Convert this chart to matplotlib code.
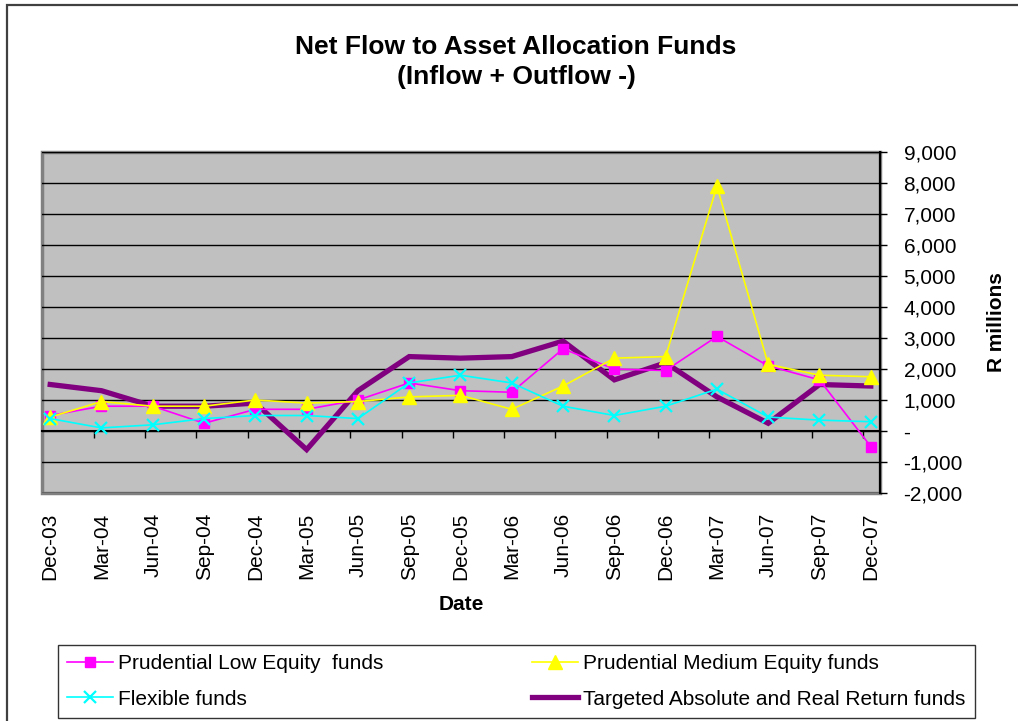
import numpy as np
import matplotlib
matplotlib.use("Agg")
import matplotlib.pyplot as plt
from matplotlib.patches import Rectangle
from matplotlib.ticker import FuncFormatter

plt.rcParams['font.family'] = ['Liberation Sans', 'DejaVu Sans']

# quarters on the category axis
quarters = ['Dec-03', 'Mar-04', 'Jun-04', 'Sep-04', 'Dec-04', 'Mar-05', 'Jun-05',
            'Sep-05', 'Dec-05', 'Mar-06', 'Jun-06', 'Sep-06', 'Dec-06', 'Mar-07',
            'Jun-07', 'Sep-07', 'Dec-07']

# net flows, R millions
low_equity = [500, 800, 800, 250, 700, 700, 1000,
              1550, 1300, 1250, 2650, 2000, 1950, 3050, 2100, 1650, -500]
medium_equity = [450, 950, 800, 800, 1000, 900, 950,
                 1100, 1150, 700, 1450, 2350, 2400, 7900, 2150, 1800, 1750]
flexible = [400, 100, 200, 400, 500, 500, 400,
            1550, 1800, 1550, 800, 500, 800, 1350, 450, 350, 300]
targeted = [1500, 1300, 800, 800, 900, -600, 1300,
            2400, 2350, 2400, 2900, 1650, 2200, 1100, 250, 1500, 1450]

x = np.arange(len(quarters))

fig = plt.figure(figsize=(10.18, 7.21), dpi=100)
ax = fig.add_axes([42/1018, 1-493/721, 838/1018, 341/721])

# outer chart frame
fig.patches.append(Rectangle((7/1018, -0.05), 1.2, 1-5/721+0.05, transform=fig.transFigure,
                             fill=False, edgecolor='#404040', lw=1.6))

ax.set_facecolor('#C0C0C0')
ax.patch.set_edgecolor('#808080')
ax.patch.set_linewidth(2.5)

ax.plot(x, targeted, color='#800080', lw=3.8, zorder=3,
        label='Targeted Absolute and Real Return funds', solid_joinstyle='miter')
ax.plot(x, low_equity, color='#FF00FF', lw=1.2, marker='s', ms=7, zorder=4,
        label='Prudential Low Equity  funds')
ax.plot(x, medium_equity, color='#FFFF00', lw=1.2, marker='^', ms=9.5, zorder=5,
        label='Prudential Medium Equity funds')
ax.plot(x, flexible, color='#00FFFF', lw=1.2, marker='x', ms=9, mew=1.6, zorder=6,
        label='Flexible funds')

ax.set_xlim(-0.16, 16.18)
ax.set_ylim(-2000, 9000)

# value axis on the right
ax.yaxis.tick_right()
ax.set_yticks(np.arange(-2000, 9001, 1000))
ax.yaxis.set_major_formatter(FuncFormatter(lambda v, p: '-' if v == 0 else f'{v:,.0f}'))
ax.tick_params(axis='y', direction='out', length=5, width=1, pad=12, labelsize=15, color='black')
ax.grid(axis='y', color='black', lw=1.0, zorder=1)
ax.set_axisbelow(True)

for s in ['top', 'left']:
    ax.spines[s].set_visible(False)
ax.spines['right'].set_color('black')
ax.spines['right'].set_linewidth(1.5)

# category axis crosses at zero
ax.spines['bottom'].set_position(('data', 0))
ax.spines['bottom'].set_color('black')
ax.spines['bottom'].set_linewidth(1.5)
ax.spines['bottom'].set_zorder(2)
ax.set_xticks(x)
ax.set_xticklabels([])
ax.tick_params(axis='x', which='major', length=0)
ax.set_xticks(np.arange(1, 17) - 0.15, minor=True)
ax.tick_params(axis='x', which='minor', direction='out', length=5, width=1, color='black')

sec = ax.secondary_xaxis('bottom')
sec.set_xticks(x, quarters, rotation=90)
sec.tick_params(length=0, pad=14, labelsize=15)
sec.spines['bottom'].set_visible(False)

ax.set_ylabel('R millions', fontsize=15, fontweight='bold', rotation=90)
ax.yaxis.set_label_position('right')
ax.yaxis.set_label_coords(1.128, 0.5)

fig.text(461/1018, 1-605/721, 'Date', fontsize=15, fontweight='bold', ha='center', va='center')

fig.text(516/1018, 1-62/721, 'Net Flow to Asset Allocation Funds\n(Inflow + Outflow -)',
         fontsize=19, fontweight='bold', ha='center', va='center', linespacing=1.35)

h, l = ax.get_legend_handles_labels()
order = [1, 3, 2, 0]
leg = fig.legend([h[i] for i in order], [l[i] for i in order], ncol=2, mode='expand',
                 loc='lower left', bbox_to_anchor=(58/1018, 3/721, 917/1018, 73/721),
                 fontsize=15, frameon=True, fancybox=False, edgecolor='black',
                 handlelength=2.2, handletextpad=0.25, labelspacing=0.78,
                 borderaxespad=0, borderpad=0.45)
leg.get_frame().set_linewidth(1.0)

fig.savefig('out.png', dpi=100)
